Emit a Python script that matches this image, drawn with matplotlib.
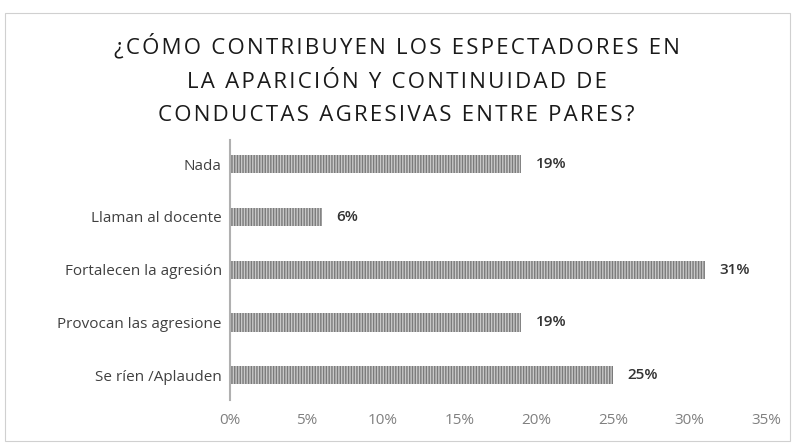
import matplotlib
matplotlib.use('Agg')
import matplotlib.pyplot as plt
from matplotlib.patches import Rectangle

categories = ['Nada', 'Llaman al docente', 'Fortalecen la agresión',
              'Provocan las agresione', 'Se ríen /Aplauden']
values = [19, 6, 31, 19, 25]
ticks = [0, 5, 10, 15, 20, 25, 30, 35]
tick_labels = ['0%', '5%', '10%', '15%', '20%', '25%', '30%', '35%']
title_lines = ['¿CÓMO CONTRIBUYEN LOS ESPECTADORES EN',
               'LA APARICIÓN Y CONTINUIDAD DE',
               'CONDUCTAS AGRESIVAS ENTRE PARES?']

plt.rcParams['font.family'] = ['Open Sans', 'DejaVu Sans']
plt.rcParams['hatch.linewidth'] = 1.0

fig = plt.figure(figsize=(7.93, 4.43), dpi=100)
ax = fig.add_axes([0.29, 0.097, 0.676, 0.587])

ypos = list(range(len(categories)))[::-1]
ax.barh(ypos, values, height=0.35, color='#c8c8c8', edgecolor='#7a7a7a',
        hatch='||||||', linewidth=0)
for y, v in zip(ypos, values):
    ax.text(v + 0.95, y, f'{v}%', va='center', ha='left', fontsize=11,
            color='#333333', fontweight='semibold')

ax.set_xlim(0, 35)
ax.set_ylim(-0.47, 4.46)
ax.set_yticks(ypos)
ax.set_yticklabels(categories, fontsize=11, color='#404040')
ax.set_xticks(ticks)
ax.set_xticklabels(tick_labels, fontsize=11, color='#808080')
ax.tick_params(axis='both', length=0)
ax.tick_params(axis='x', pad=9)
ax.tick_params(axis='y', pad=6)
for s in ['top', 'right', 'bottom']:
    ax.spines[s].set_visible(False)
ax.spines['left'].set_color('#b0b0b0')
ax.spines['left'].set_linewidth(1.5)

# wide letter spacing in the title
spaced = '\n'.join('\u200a'.join(line) for line in title_lines)
fig.text(0.5, 0.82, spaced, ha='center', va='center', fontsize=16,
         color='#1a1a1a', linespacing=1.8)

fig.patches.append(Rectangle((0.006, 0.005), 0.99, 0.965, transform=fig.transFigure,
                             fill=False, edgecolor='#d0d0d0', linewidth=0.8))

fig.savefig('out.png', dpi=100)
